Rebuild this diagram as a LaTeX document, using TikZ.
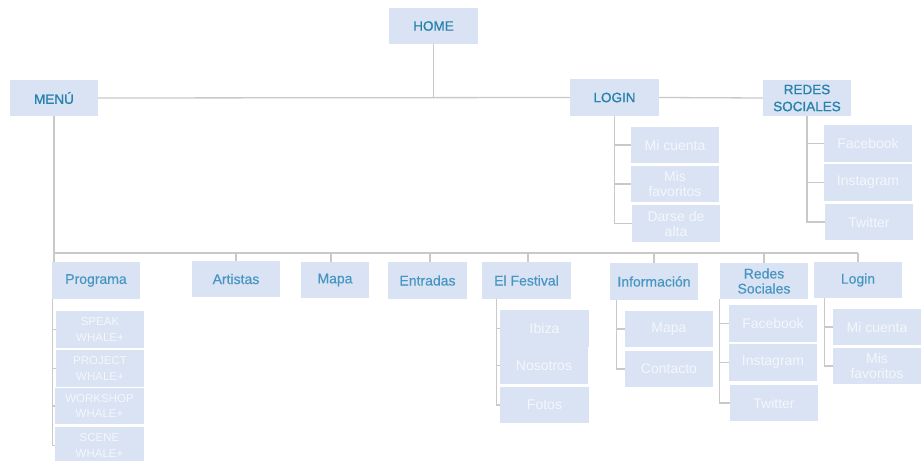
\documentclass[tikz,border=0pt]{standalone}
\usepackage{fontspec}
\setmainfont{Liberation Sans}
\newfontfamily\topfont[FakeBold=1.2]{Liberation Sans}
\newfontfamily\midfont[FakeBold=0.4]{Liberation Sans}
\definecolor{boxfill}{HTML}{DAE3F3}
\definecolor{topblue}{HTML}{2782AD}
\definecolor{midblue}{HTML}{4795C2}
\definecolor{childtxt}{HTML}{F4F7FC}
\definecolor{linegray}{HTML}{C9C9C9}
\begin{document}
\begin{tikzpicture}[x=1pt,y=-1pt,
  box/.style={fill=boxfill, minimum width=88pt, minimum height=36pt, inner sep=0pt, align=center},
  topbox/.style={box, text=topblue, font=\topfont\fontsize{13.5}{17}\selectfont},
  midbox/.style={box, text=midblue, font=\midfont\fontsize{14}{15}\selectfont},
  childbox/.style={box, text=childtxt, font=\fontsize{14}{15}\selectfont},
  smallchild/.style={box, text=childtxt, font=\fontsize{11.5}{15.3}\selectfont},
  conn/.style={draw=linegray, line width=1.3pt}]
\useasboundingbox (0,0) rectangle (922,461);
% top level
\node[topbox, minimum width=89pt] (home) at (433.5,26) {HOME};
\node[topbox] (menu) at (54,98) {MENÚ};
\node[topbox, minimum width=89pt, minimum height=37pt] (login) at (614.5,97.5) {LOGIN};
\node[topbox] (redes) at (807,98) {REDES\\SOCIALES};
% login children
\node[childbox] (lmi) at (675,145) {Mi cuenta};
\node[childbox] (lfav) at (675,184) {Mis\\favoritos};
\node[childbox, minimum height=37pt] (lalta) at (676,223.5) {Darse de\\alta};
% redes children
\node[childbox, minimum height=37pt] (rfb) at (868,143.5) {Facebook};
\node[childbox, minimum height=37pt] (rig) at (868,182.5) {Instagram};
\node[childbox] (rtw) at (869,222) {Twitter};
% second level
\node[midbox, minimum height=37pt] (prog) at (96,280.5) {Programa};
\node[midbox] (art) at (236,279) {Artistas};
\node[midbox, minimum width=68pt] (mapa) at (335,280) {Mapa};
\node[midbox, minimum width=79pt, minimum height=37pt] (entr) at (427.5,280.5) {Entradas};
\node[midbox, minimum width=89pt, minimum height=37pt] (fest) at (526.5,280.5) {El Festival};
\node[midbox, minimum height=37pt] (info) at (654,281.5) {Información};
\node[midbox] (rs) at (764,281) {Redes\\Sociales};
\node[midbox] (log) at (858,280) {Login};
% programa children
\node[smallchild, minimum height=37pt] (speak) at (100,329.5) {SPEAK\\WHALE+};
\node[smallchild, minimum height=37pt] (project) at (100,368.5) {PROJECT\\WHALE+};
\node[smallchild, minimum width=89pt] (workshop) at (99.5,406) {WORKSHOP\\WHALE+};
\node[smallchild, minimum width=89pt, minimum height=37pt] (scene) at (99.5,445.5) {SCENE\\WHALE+};
% festival children
\node[childbox, minimum width=89pt, minimum height=37pt] (ibiza) at (544.5,328.5) {Ibiza};
\node[childbox, minimum height=37pt] (nos) at (544,365.5) {Nosotros};
\node[childbox, minimum width=89pt] (fotos) at (544.5,405) {Fotos};
% informacion children
\node[childbox] (imapa) at (669,329) {Mapa};
\node[childbox] (cont) at (669,369) {Contacto};
% redes sociales children
\node[childbox, minimum height=37pt] (sfb) at (773,323.5) {Facebook};
\node[childbox, minimum height=37pt] (sig) at (773,362.5) {Instagram};
\node[childbox] (stw) at (774,403) {Twitter};
% login children (bottom)
\node[childbox] (lmi2) at (877,327) {Mi cuenta};
\node[childbox] (lfav2) at (877,366) {Mis\\favoritos};
% connectors top
\draw[conn] (menu.east) -- (login.west);
\draw[conn] (login.east) -- (redes.west);
\draw[conn] (home.south) -- (home.south |- menu.east);
\draw[conn] (login.south) |- (lmi.west);
\draw[conn] (login.south) |- (lfav.west);
\draw[conn] (login.south) |- (lalta.west);
\draw[conn] (redes.south) |- (rfb.west);
\draw[conn] (redes.south) |- (rig.west);
\draw[conn] (redes.south) |- (rtw.west);
% bus
\coordinate (busL) at (54,253);
\coordinate (busR) at (858,253);
\draw[conn] (menu.south) -- (busL) -- (busR);
\draw[conn] (busL) -- (busL |- prog.north);
\draw[conn] (art.north) -- (art.north |- busL);
\draw[conn] ([xshift=-4pt]mapa.north) -- ([xshift=-4pt]mapa.north |- busL);
\draw[conn] ([xshift=2.5pt]entr.north) -- ([xshift=2.5pt]entr.north |- busL);
\draw[conn] ([xshift=1.5pt]fest.north) -- ([xshift=1.5pt]fest.north |- busL);
\draw[conn] (info.north) -- (info.north |- busL);
\draw[conn] (rs.north) -- (rs.north |- busL);
\draw[conn] (log.north) -- (log.north |- busL);
% second-level children
\draw[conn] ([xshift=1pt]prog.south west) |- (speak.west);
\draw[conn] ([xshift=1pt]prog.south west) |- (project.west);
\draw[conn] ([xshift=1pt]prog.south west) |- (workshop.west);
\draw[conn] ([xshift=1pt]prog.south west) |- (scene.west);
\draw[conn] ([xshift=15pt]fest.south west) |- (ibiza.west);
\draw[conn] ([xshift=15pt]fest.south west) |- (nos.west);
\draw[conn] ([xshift=15pt]fest.south west) |- (fotos.west);
\draw[conn] ([xshift=7pt]info.south west) |- (imapa.west);
\draw[conn] ([xshift=7pt]info.south west) |- (cont.west);
\draw[conn] (rs.south west) |- (sfb.west);
\draw[conn] (rs.south west) |- (sig.west);
\draw[conn] (rs.south west) |- (stw.west);
\draw[conn] ([xshift=11pt]log.south west) |- (lmi2.west);
\draw[conn] ([xshift=11pt]log.south west) |- (lfav2.west);
\end{tikzpicture}
\end{document}
